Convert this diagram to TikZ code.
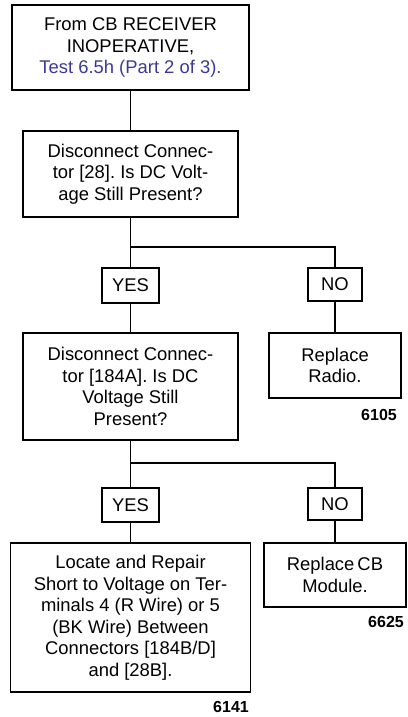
\documentclass[tikz,border=0pt]{standalone}
\usepackage{fontspec}
\setmainfont{Liberation Sans}
\definecolor{testblue}{RGB}{58,58,150}
\frenchspacing
\begin{document}
\begin{tikzpicture}[x=1pt,y=-1pt,
  box/.style={draw, line width=1.1pt, align=center, inner sep=0pt,
    font=\fontsize{18.4}{21.5}\selectfont},
  ans/.style={draw, line width=1.1pt, inner sep=0pt,
    font=\fontsize{18.4}{21.5}\selectfont},
  num/.style={anchor=base east, inner sep=0pt,
    font=\bfseries\fontsize{16}{18}\selectfont},
  conn/.style={line width=1.1pt}]
\useasboundingbox (0,0) rectangle (407,717);
\node[box, minimum width=237pt, minimum height=85pt] (b1) at (130.5,47.5)
  {From CB RECEIVER\\INOPERATIVE,\\\textcolor{testblue}{Test 6.5h (Part 2 of 3).}};
\node[box, minimum width=215pt, minimum height=86pt] (b2) at (130.5,174)
  {Disconnect Connec-\\tor [28]. Is DC Volt-\\age Still Present?};
\node[ans, minimum width=57pt, minimum height=35pt] (y1) at (130.5,285.5) {YES};
\node[ans, minimum width=54pt, minimum height=33pt] (n1) at (335,284.5) {NO};
\node[box, minimum width=215pt, minimum height=107pt] (b3) at (130.5,386.5)
  {Disconnect Connec-\\tor [184A]. Is DC\\Voltage Still\\Present?};
\node[box, minimum width=132pt, minimum height=65pt] (r1) at (335,365.5)
  {Replace\\Radio.};
\node[num] (l1) at (397,420) {6105};
\node[ans, minimum width=57pt, minimum height=34pt] (y2) at (130.5,505) {YES};
\node[ans, minimum width=54pt, minimum height=32pt] (n2) at (335,504) {NO};
\node[box, minimum width=240pt, minimum height=149pt] (b4) at (130.5,617.5)
  {Locate and Repair\\Short to Voltage on Ter-\\minals 4 (R Wire) or 5\\(BK Wire) Between\\Connectors [184B/D]\\and [28B].};
\node[box, minimum width=142pt, minimum height=64pt] (r2) at (335,575)
  {Replace\,CB\\Module.};
\node[num] (l2) at (404,627) {6625};
\node[num] (l3) at (249,712) {6141};
\coordinate (j1) at (130.5,247);
\coordinate (j2) at (130.5,463);
\draw[conn] (b1.south) -- (b2.north);
\draw[conn] (b2.south) -- (y1.north);
\draw[conn] (j1) -| (n1.north);
\draw[conn] (y1.south) -- (b3.north);
\draw[conn] (n1.south) -- (r1.north);
\draw[conn] (b3.south) -- (y2.north);
\draw[conn] (j2) -| (n2.north);
\draw[conn] (y2.south) -- (b4.north);
\draw[conn] (n2.south) -- (r2.north);
\end{tikzpicture}
\end{document}
